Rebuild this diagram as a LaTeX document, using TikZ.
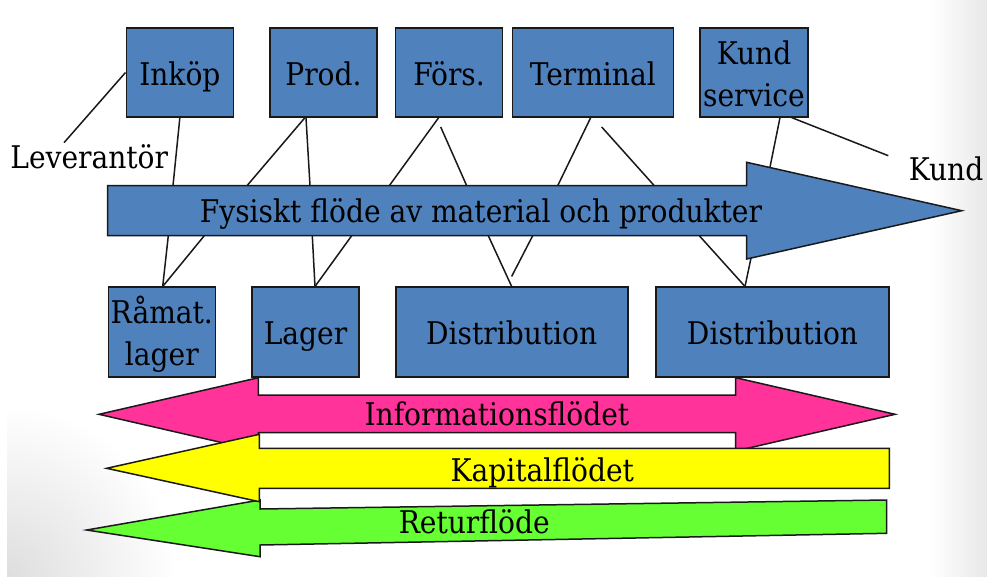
\documentclass[tikz,border=0pt]{standalone}
\usepackage{fontspec}
\setmainfont{DejaVu Serif Condensed}[Scale=0.88]
\definecolor{boxblue}{HTML}{4F81BD}
\definecolor{infopink}{HTML}{FF3399}
\definecolor{kapyellow}{HTML}{FFFF00}
\definecolor{retgreen}{HTML}{66FF33}
\begin{document}
\begin{tikzpicture}[x=1pt,y=-1pt,
  every node/.style={font=\fontsize{35.5}{42}\selectfont, inner sep=0pt},
  blockbox/.style={draw=black!90, line width=1.7pt, fill=boxblue, text height=25pt, text depth=0pt, align=center},
  twoline/.style={text height=67pt, text depth=0pt},
  conn/.style={draw=black!90, line width=1.5pt},
  flow/.style={draw=black!90, line width=1.5pt, line join=miter},
  lbl/.style={anchor=base}]
\useasboundingbox (0,0) rectangle (987,576);
\fill[white] (0,0) rectangle (987,576);
% faint slide shadows
\shade[left color=white, right color=black!9] (930,0) rectangle (987,576);
\begin{scope}
\clip (7,400) rectangle (200,576);
\shade[inner color=black!13, outer color=white] (7,576) circle (170);
\end{scope}

% coloured flows
\path[flow, fill=retgreen] (86.7,530) -- (260,500) -- (260,509) -- (886.7,500) -- (886.7,533.3) -- (260,545) -- (260,556.7) -- cycle;
\path[flow, fill=infopink] (99,414.3) -- (258.3,377.7) -- (258.3,395) -- (735.7,395) -- (735.7,377.7) -- (895,414.3) -- (735.7,451) -- (735.7,432.7) -- (258.3,432.7) -- (258.3,451) -- cycle;
\path[flow, fill=kapyellow] (106.7,468.3) -- (259.3,434.3) -- (259.3,448.3) -- (889.3,448.3) -- (889.3,488.3) -- (259.3,488.3) -- (259.3,501.7) -- cycle;
\node[lbl] (info) at (496.9,425.7) {Informationsflödet};
\node[lbl] (kap) at (542.3,481) {Kapitalflödet};
\node[lbl] (ret) at (474.2,533.3) {Returflöde};

% physical flow arrow
\path[flow, fill=boxblue] (107.7,185.7) -- (746.7,185.7) -- (746.7,162.3) -- (961.7,210.7) -- (746.7,259) -- (746.7,235.7) -- (107.7,235.7) -- cycle;
\node[lbl] (fys) at (481,222.7) {Fysiskt flöde av material och produkter};

% outside labels
\node[lbl] (lev) at (89.2,168.3) {Leverantör};
\node[lbl] (kund) at (946,180) {Kund};

% top boxes
\node[blockbox, minimum width=107pt, minimum height=88.5pt] (inkop) at (179.85,72.5) {Inköp};
\node[blockbox, minimum width=107pt, minimum height=88.5pt] (prod) at (323.5,72.5) {Prod.};
\node[blockbox, minimum width=107pt, minimum height=88.5pt] (fors) at (449,72.5) {Förs.};
\node[blockbox, minimum width=161pt, minimum height=88.5pt] (terminal) at (592.85,72.5) {Terminal};
\node[blockbox, twoline, minimum width=107.4pt, minimum height=88.5pt] (kundserv) at (754,72.5) {Kund\\service};

% bottom boxes
\node[blockbox, twoline, minimum width=107pt, minimum height=89.4pt] (ramat) at (161.85,332) {Råmat.\\lager};
\node[blockbox, minimum width=106.4pt, minimum height=89.4pt] (lager) at (305.5,332) {Lager};
\node[blockbox, minimum width=232pt, minimum height=89.4pt] (dist1) at (511.65,332) {Distribution};
\node[blockbox, minimum width=232.4pt, minimum height=89.4pt] (dist2) at (772.5,332) {Distribution};

% connector end points on the flow arrow and free ends
\coordinate (levtip) at (64,142.7);
\coordinate (kundtip) at (888.3,155.7);
\coordinate (t1) at (173,185.7);
\coordinate (t2) at (247,185.7);
\coordinate (t3) at (310,185.7);
\coordinate (t4) at (389.3,185.7);
\coordinate (t5) at (466.7,185.7);
\coordinate (t6) at (557.7,185.7);
\coordinate (t7) at (654.3,185.7);
\coordinate (t8) at (770,167);
\coordinate (b1) at (168.3,235.7);
\coordinate (b2) at (204.3,235.7);
\coordinate (b3) at (312.3,235.7);
\coordinate (b4) at (351.7,235.7);
\coordinate (b5) at (488.3,235.7);
\coordinate (b6) at (532.7,235.7);
\coordinate (b7) at (699.3,235.7);
\coordinate (b8) at (751,258);

% connectors above the arrow
\draw[conn] (inkop.west) -- (levtip);
\draw[conn] (inkop.south) -- (t1);
\draw[conn] ([xshift=-18.5pt]prod.south) -- (t2);
\draw[conn] ([xshift=-17.5pt]prod.south) -- (t3);
\draw[conn] ([xshift=-10.3pt]fors.south) -- (t4);
\draw[conn] ([xshift=-8.3pt,yshift=-9.4pt]fors.south) -- (t5);
\draw[conn] ([xshift=-2.15pt]terminal.south) -- (t6);
\draw[conn] ([xshift=8.85pt,yshift=-9.4pt]terminal.south) -- (t7);
\draw[conn] ([xshift=26pt]kundserv.south) -- (t8);
\draw[conn] ([xshift=37.7pt]kundserv.south) -- (kundtip);

% connectors below the arrow
\draw[conn] (b1) -- ([xshift=0.85pt]ramat.north);
\draw[conn] (b2) -- ([xshift=0.85pt]ramat.north);
\draw[conn] (b3) -- ([xshift=9.5pt]lager.north);
\draw[conn] (b4) -- ([xshift=9.5pt]lager.north);
\draw[conn] (b5) -- (dist1.north);
\draw[conn] (b6) -- ([yshift=10pt]dist1.north);
\draw[conn] (b7) -- ([xshift=-27.5pt]dist2.north);
\draw[conn] (b8) -- ([xshift=-27.5pt]dist2.north);
\end{tikzpicture}
\end{document}
